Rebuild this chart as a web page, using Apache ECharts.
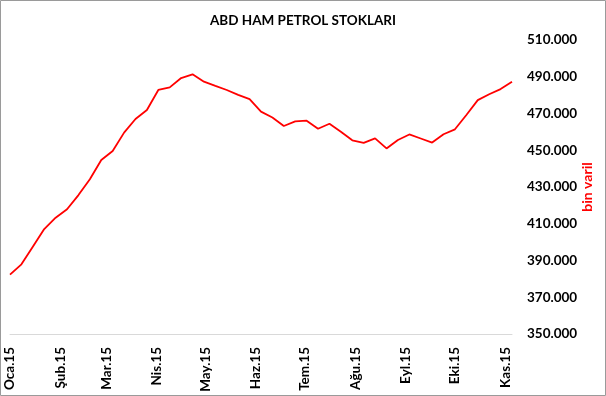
<!DOCTYPE html>
<html>
<head>
<meta charset="utf-8">
<script src="https://cdn.jsdelivr.net/npm/echarts@6/dist/echarts.min.js"></script>
<style>
html,body{margin:0;padding:0;background:#fff;}
#chart{width:606px;height:396px;}
</style>
</head>
<body>
<div id="chart"></div>
<script>
// Weekly dates (2015)
const dates = [
 '2015-01-02','2015-01-09','2015-01-16','2015-01-23','2015-01-30',
 '2015-02-06','2015-02-13','2015-02-20','2015-02-27',
 '2015-03-06','2015-03-13','2015-03-20','2015-03-27',
 '2015-04-03','2015-04-10','2015-04-17','2015-04-24',
 '2015-05-01','2015-05-08','2015-05-15','2015-05-22','2015-05-29',
 '2015-06-05','2015-06-12','2015-06-19','2015-06-26',
 '2015-07-03','2015-07-10','2015-07-17','2015-07-24','2015-07-31',
 '2015-08-07','2015-08-14','2015-08-21','2015-08-28',
 '2015-09-04','2015-09-11','2015-09-18','2015-09-25',
 '2015-10-02','2015-10-09','2015-10-16','2015-10-23','2015-10-30',
 '2015-11-06'
];
// Crude oil stocks (thousand barrels)
const stocks = [
 382300, 387900, 397500, 407100, 413300,
 417900, 425600, 434200, 444700,
 449600, 459600, 467000, 471900,
 482800, 484200, 489300, 491300,
 487300, 485000, 482800, 480100, 477800,
 471000, 467800, 463200, 465700,
 466100, 461700, 464400, 460100, 455400,
 454000, 456500, 451000, 455600,
 458600, 456400, 454200, 458700,
 461400, 469200, 477300, 480500, 483300,
 487300
];
// Month tick positions and labels
const tickDates = ['2015-01-02','2015-02-02','2015-03-02','2015-04-02','2015-05-02','2015-06-02','2015-07-02','2015-08-02','2015-09-02','2015-10-02','2015-11-02'];
const tickLabels = ['Oca.15','Şub.15','Mar.15','Nis.15','May.15','Haz.15','Tem.15','Ağu.15','Eyl.15','Eki.15','Kas.15'];

// day number since 2015-01-01
const dayNum = s => { const p = s.split('-').map(Number); return Math.round((Date.UTC(p[0], p[1]-1, p[2]) - Date.UTC(2015,0,1)) / 86400000); };
const tickDays = tickDates.map(dayNum);
const FONT = 'Lato, "Open Sans", sans-serif';

const chart = echarts.init(document.getElementById('chart'), null, {renderer:'canvas'});
chart.setOption({
  animation: false,
  backgroundColor: '#fff',
  title: {
    text: 'ABD HAM PETROL STOKLARI',
    left: 'center', top: 9,
    textStyle: {fontFamily: FONT, fontSize: 13.5, fontWeight: 'bold', color: '#000'}
  },
  graphic: [{
    type: 'rect', shape: {x: 0.5, y: 0.5, width: 605, height: 395},
    style: {fill: 'none', stroke: '#9a9a9a', lineWidth: 1}, silent: true, z: 100
  }],
  grid: {left: 10, right: 94, top: 40, bottom: 62, containLabel: false, outerBoundsMode: 'none'},
  xAxis: {
    type: 'value',
    min: dayNum(dates[0]), max: dayNum(dates[dates.length-1]),
    axisLine: {show: true, onZero: false, lineStyle: {color: '#d9d9d9', width: 1}},
    axisTick: {show: false},
    splitLine: {show: false},
    axisLabel: {
      customValues: tickDays,
      rotate: 90, margin: 13,
      fontFamily: FONT, fontSize: 13.5, fontWeight: 'bold', color: '#000',
      showMinLabel: true, showMaxLabel: true,
      formatter: function (v) {
        const i = tickDays.indexOf(v);
        return i >= 0 ? tickLabels[i] : '';
      }
    }
  },
  yAxis: {
    type: 'value', position: 'right',
    min: 350000, max: 510000, interval: 20000,
    name: 'bin varil', nameLocation: 'middle', nameRotate: 90, nameGap: 68,
    nameMoveOverlap: false,
    nameTextStyle: {color: '#ff0000', fontFamily: FONT, fontSize: 14, fontWeight: 'bold'},
    axisLine: {show: false}, axisTick: {show: false}, splitLine: {show: false},
    axisLabel: {
      margin: 15, fontFamily: FONT, fontSize: 13.5, fontWeight: 'bold', color: '#000',
      formatter: v => String(v).replace(/\B(?=(\d{3})+(?!\d))/g, '.')
    }
  },
  series: [{
    type: 'line',
    data: dates.map((d, i) => [dayNum(d), stocks[i]]),
    showSymbol: false, symbol: 'none',
    lineStyle: {color: '#ff0000', width: 1.8},
    itemStyle: {color: '#ff0000'}
  }]
});
</script>
</body>
</html>
